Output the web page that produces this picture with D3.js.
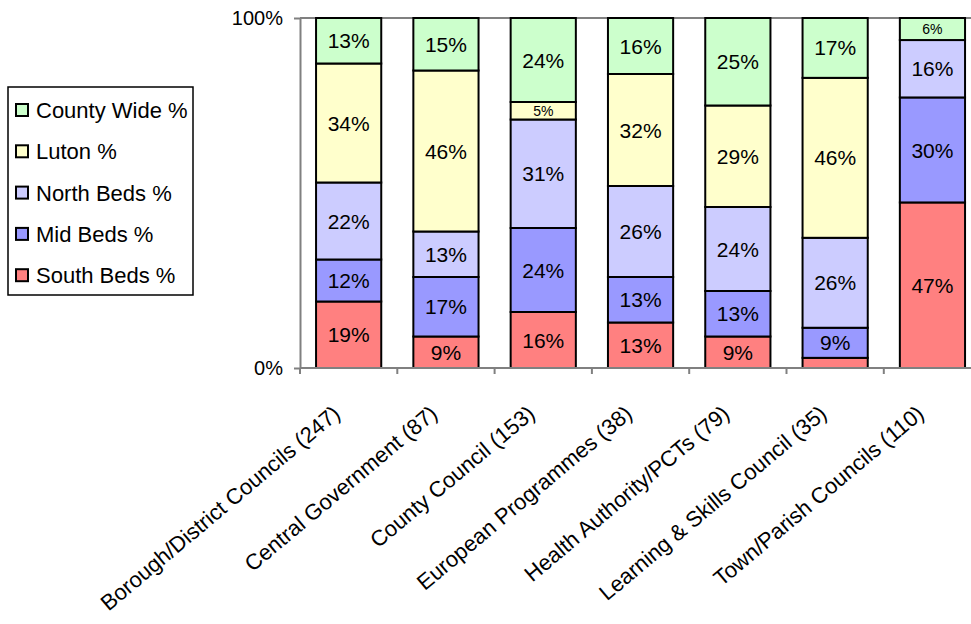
<!DOCTYPE html>
<html><head><meta charset="utf-8">
<script src="https://cdn.jsdelivr.net/npm/d3@7"></script>
<style>body{margin:0;background:#fff;}svg{display:block;font-family:"Liberation Sans",Arial,sans-serif;}</style>
</head><body>
<svg id="c" width="971" height="624"></svg>
<script>
const categories = ["Borough/District Councils (247)","Central Government (87)","County Council (153)","European Programmes (38)","Health Authority/PCTs (79)","Learning & Skills Council (35)","Town/Parish Councils (110)"];
const seriesNames = ["South Beds %","Mid Beds %","North Beds %","Luton %","County Wide %"];
const southBeds  = [19, 9, 16, 13, 9, 2.9, 47.3];
const midBeds    = [12, 17, 24, 13, 13, 8.6, 30.0];
const northBeds  = [22, 13, 31, 26, 24, 25.7, 16.4];
const luton      = [34, 46, 5, 32, 29, 45.7, 0];
const countyWide = [13, 15, 24, 16, 25, 17.1, 6.3];
const colors = ["#FF8080","#9999FF","#CCCCFF","#FFFFCC","#CCFFCC"];
const yTicks = [0, 100];

(function(){
const seriesVals = [southBeds, midBeds, northBeds, luton, countyWide];
const rows = categories.map((c,i)=>{const r={cat:c}; seriesNames.forEach((s,j)=>r[s]=seriesVals[j][i]); return r;});
const stack = d3.stack().keys(seriesNames)(rows);

const svg = d3.select("#c");
const mLeft=300, mTop=18, mBottom=368, band=97.3;
const x = d3.scaleBand().domain(categories).range([mLeft, mLeft+band*categories.length]).paddingInner(0.33).paddingOuter(0.165);
const y = d3.scaleLinear().domain([0,100]).range([mBottom, mTop]);

svg.append("line").attr("x1",mLeft).attr("x2",971).attr("y1",y(100)).attr("y2",y(100)).attr("stroke","#808080").attr("stroke-width",2);

const g = svg.append("g");
stack.forEach((s,j)=>{
  g.selectAll(null).data(s.filter(d=>d[1]-d[0]>0)).enter().append("rect")
    .attr("x",d=>x(d.data.cat)).attr("width",x.bandwidth())
    .attr("y",d=>y(d[1])).attr("height",d=>y(d[0])-y(d[1]))
    .attr("fill",colors[j]).attr("stroke","#000").attr("stroke-width",2);
});
stack.forEach((s,j)=>{
  g.selectAll(null).data(s.filter(d=>d[1]-d[0]>=4.5)).enter().append("text")
    .attr("x",d=>x(d.data.cat)+x.bandwidth()/2)
    .attr("y",d=>(y(d[0])+y(d[1]))/2)
    .attr("dy","0.36em").attr("text-anchor","middle")
    .attr("font-size",d=>(d[1]-d[0])<8?14:21)
    .attr("fill","#000")
    .text(d=>Math.round(d[1]-d[0])+"%");
});

const yAxis = d3.axisLeft(y).tickValues(yTicks).tickFormat(d=>d+"%").tickSize(6).tickSizeOuter(0);
const ya = svg.append("g").attr("transform",`translate(${mLeft},0)`).call(yAxis);
ya.select(".domain").attr("stroke","#808080").attr("stroke-width",2);
ya.selectAll(".tick line").attr("stroke","#808080").attr("stroke-width",2);
ya.selectAll(".tick text").attr("font-size",20).attr("fill","#000").attr("x",-17).attr("font-family","Liberation Sans, Arial, sans-serif");

svg.append("line").attr("x1",mLeft).attr("x2",971).attr("y1",mBottom).attr("y2",mBottom).attr("stroke","#808080").attr("stroke-width",2);
const bounds = d3.range(categories.length+1).map(i=>mLeft+i*band);
svg.selectAll(null).data(bounds).enter().append("line")
  .attr("x1",d=>d).attr("x2",d=>d).attr("y1",mBottom).attr("y2",mBottom+6).attr("stroke","#808080").attr("stroke-width",2);
svg.selectAll(null).data(categories).enter().append("text")
  .attr("transform",d=>`translate(${x(d)+x.bandwidth()/2-7},${mBottom+48}) rotate(-40)`)
  .attr("text-anchor","end").attr("font-size",22).attr("fill","#000").text(d=>d);

const lg = svg.append("g");
lg.append("rect").attr("x",8).attr("y",87).attr("width",185).attr("height",208).attr("fill","#fff").attr("stroke","#000").attr("stroke-width",1.5);
const legOrder = seriesNames.map((s,j)=>({s,c:colors[j]})).reverse();
legOrder.forEach((d,i)=>{
  const cy = 110 + i*41.3;
  lg.append("rect").attr("x",16).attr("y",cy-6).attr("width",12).attr("height",12).attr("fill",d.c).attr("stroke","#000").attr("stroke-width",2);
  lg.append("text").attr("x",36).attr("y",cy).attr("dy","0.36em").attr("font-size",22).attr("fill","#000").text(d.s);
});
})();
</script>
</body></html>
